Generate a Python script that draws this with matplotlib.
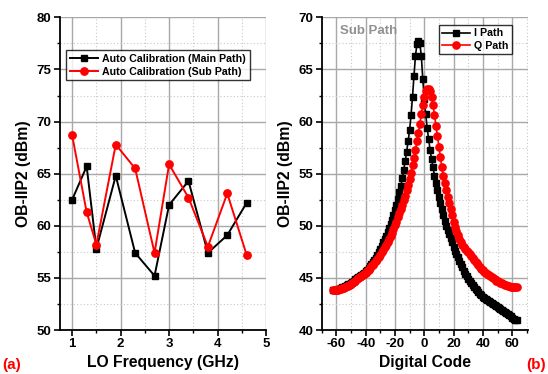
import matplotlib
matplotlib.use("Agg")
import matplotlib.pyplot as plt
from matplotlib.ticker import MultipleLocator

plt.rcParams["font.family"] = ["Liberation Sans", "DejaVu Sans"]
plt.rcParams["font.weight"] = "bold"
plt.rcParams["axes.unicode_minus"] = False

# (a) OB-IIP2 vs LO frequency
lo_freq = [1.0, 1.3, 1.5, 1.9, 2.3, 2.7, 3.0, 3.4, 3.8, 4.2, 4.6]
main_path = [62.5, 65.7, 57.8, 64.8, 57.4, 55.2, 62.0, 64.3, 57.4, 59.1, 62.2]
sub_path = [68.7, 61.3, 58.2, 67.8, 65.5, 57.4, 65.9, 62.7, 58.0, 63.1, 57.2]

# (b) OB-IIP2 vs digital code (sub path)
codes = list(range(-62, 64))
i_path = [
    43.8, 43.8, 43.85, 43.9, 43.95, 44.0, 44.1, 44.15, 44.2, 44.3,
    44.4, 44.45, 44.55, 44.65, 44.75, 44.85, 44.95, 45.05, 45.15, 45.25,
    45.4, 45.5, 45.65, 45.8, 45.95, 46.1, 46.3, 46.5, 46.7, 46.95,
    47.2, 47.5, 47.8, 48.1, 48.4, 48.7, 49.0, 49.4, 49.8, 50.2,
    50.6, 51.0, 51.5, 52.0, 52.6, 53.2, 53.8, 54.6, 55.4, 56.2,
    57.1, 58.1, 59.2, 60.6, 62.4, 64.4, 66.3, 67.4, 67.7, 67.5,
    66.3, 64.1, 62.2, 60.7, 59.4, 58.3, 57.3, 56.4, 55.6, 54.8,
    54.1, 53.4, 52.8, 52.2, 51.6, 51.0, 50.5, 50.0, 49.6, 49.2,
    48.8, 48.4, 48.0, 47.6, 47.3, 47.0, 46.6, 46.3, 46.0, 45.7,
    45.4, 45.15, 44.9, 44.7, 44.5, 44.3, 44.1, 43.95, 43.8, 43.65,
    43.5, 43.35, 43.2, 43.1, 43.0, 42.9, 42.8, 42.7, 42.6, 42.5,
    42.4, 42.3, 42.2, 42.1, 42.0, 41.9, 41.8, 41.7, 41.6, 41.5,
    41.4, 41.3, 41.2, 41.1, 41.0, 40.95,
]
q_path = [
    43.8, 43.8, 43.82, 43.85, 43.9, 43.95, 44.0, 44.05, 44.1, 44.2,
    44.25, 44.35, 44.45, 44.55, 44.65, 44.75, 44.85, 44.95, 45.05, 45.15,
    45.25, 45.4, 45.5, 45.65, 45.8, 45.95, 46.1, 46.25, 46.4, 46.6,
    46.8, 47.0, 47.2, 47.45, 47.7, 47.95, 48.2, 48.45, 48.75, 49.05,
    49.35, 49.7, 50.05, 50.4, 50.8, 51.2, 51.6, 52.0, 52.45, 52.9,
    53.4, 53.9, 54.5, 55.1, 55.8, 56.5, 57.3, 58.1, 58.9, 59.8,
    60.7, 61.6, 62.4, 62.9, 63.1, 63.1, 62.9, 62.4, 61.6, 60.6,
    59.6, 58.6, 57.6, 56.6, 55.6, 54.8, 54.1, 53.4, 52.8, 52.2,
    51.6, 51.0, 50.4, 49.9, 49.5, 49.1, 48.75, 48.45, 48.2, 48.0,
    47.8, 47.6, 47.45, 47.25, 47.1, 46.9, 46.75, 46.55, 46.4, 46.2,
    46.05, 45.9, 45.75, 45.6, 45.5, 45.35, 45.25, 45.15, 45.05, 44.95,
    44.85, 44.75, 44.7, 44.6, 44.55, 44.5, 44.45, 44.35, 44.3, 44.25,
    44.2, 44.15, 44.15, 44.1, 44.1, 44.1,
]


def style_axes(ax, xmaj, xmin, ymaj, ymin):
    ax.xaxis.set_major_locator(MultipleLocator(xmaj))
    ax.xaxis.set_minor_locator(MultipleLocator(xmin))
    ax.yaxis.set_major_locator(MultipleLocator(ymaj))
    ax.yaxis.set_minor_locator(MultipleLocator(ymin))
    ax.grid(which="major", color="#a8a8a8", linewidth=1.0, linestyle="-")
    ax.grid(which="minor", color="#c8c8c8", linewidth=0.8, linestyle=(0, (1, 2)))
    ax.set_axisbelow(True)
    for s in ["top", "right"]:
        ax.spines[s].set_visible(False)
    for s in ["left", "bottom"]:
        ax.spines[s].set_linewidth(1.3)
    ax.tick_params(which="major", direction="out", length=4, width=1.2, labelsize=9.5, pad=2)
    ax.tick_params(which="minor", direction="out", length=2, width=1.0)
    for lab in ax.get_xticklabels() + ax.get_yticklabels():
        lab.set_fontweight("bold")


fig = plt.figure(figsize=(5.48, 3.74), dpi=100)
ax1 = fig.add_axes([0.1095, 0.1176, 0.376, 0.836])
ax2 = fig.add_axes([0.587, 0.1176, 0.377, 0.836])

ax1.plot(lo_freq, main_path, color="black", marker="s", markersize=4.8,
         linewidth=1.4, label="Auto Calibration (Main Path)")
ax1.plot(lo_freq, sub_path, color="red", marker="o", markersize=5.3,
         linewidth=1.4, label="Auto Calibration (Sub Path)")
ax1.set_xlim(0.75, 5)
ax1.set_ylim(50, 80)
style_axes(ax1, 1, 0.5, 5, 2.5)
ax1.set_xlabel("LO Frequency (GHz)", fontsize=11.3, fontweight="bold", labelpad=3)
ax1.set_ylabel("OB-IIP2 (dBm)", fontsize=11.3, fontweight="bold", labelpad=4)
leg1 = ax1.legend(loc="upper left", bbox_to_anchor=(0.03, 0.895), fontsize=7.7,
                  frameon=True, fancybox=False, edgecolor="black",
                  handlelength=2.6, borderpad=0.35, labelspacing=0.25,
                  handletextpad=0.4, borderaxespad=0)
leg1.get_frame().set_linewidth(1.0)

ax2.plot(codes, i_path, color="black", marker="s", markersize=4.6,
         linewidth=1.2, label="I Path")
ax2.plot(codes, q_path, color="red", marker="o", markersize=5.2,
         linewidth=1.2, label="Q Path")
ax2.set_xlim(-70, 71)
ax2.set_ylim(40, 70)
style_axes(ax2, 20, 10, 5, 2.5)
ax2.set_xlabel("Digital Code", fontsize=11.3, fontweight="bold", labelpad=3)
ax2.set_ylabel("OB-IIP2 (dBm)", fontsize=11.3, fontweight="bold", labelpad=4)
leg2 = ax2.legend(loc="upper right", bbox_to_anchor=(0.92, 0.975), fontsize=7.7,
                  frameon=True, fancybox=False, edgecolor="black",
                  handlelength=2.6, borderpad=0.3, labelspacing=0.2,
                  handletextpad=0.4, borderaxespad=0)
leg2.get_frame().set_linewidth(1.0)
ax2.text(0.09, 0.955, "Sub Path", transform=ax2.transAxes, color="#909090",
         fontsize=9.5, fontweight="bold", va="center", ha="left")

fig.text(0.005, 0.024, "(a)", color="red", fontsize=11, fontweight="bold", va="center", ha="left")
fig.text(0.996, 0.024, "(b)", color="red", fontsize=11, fontweight="bold", va="center", ha="right")

fig.savefig("out.png", dpi=100)
